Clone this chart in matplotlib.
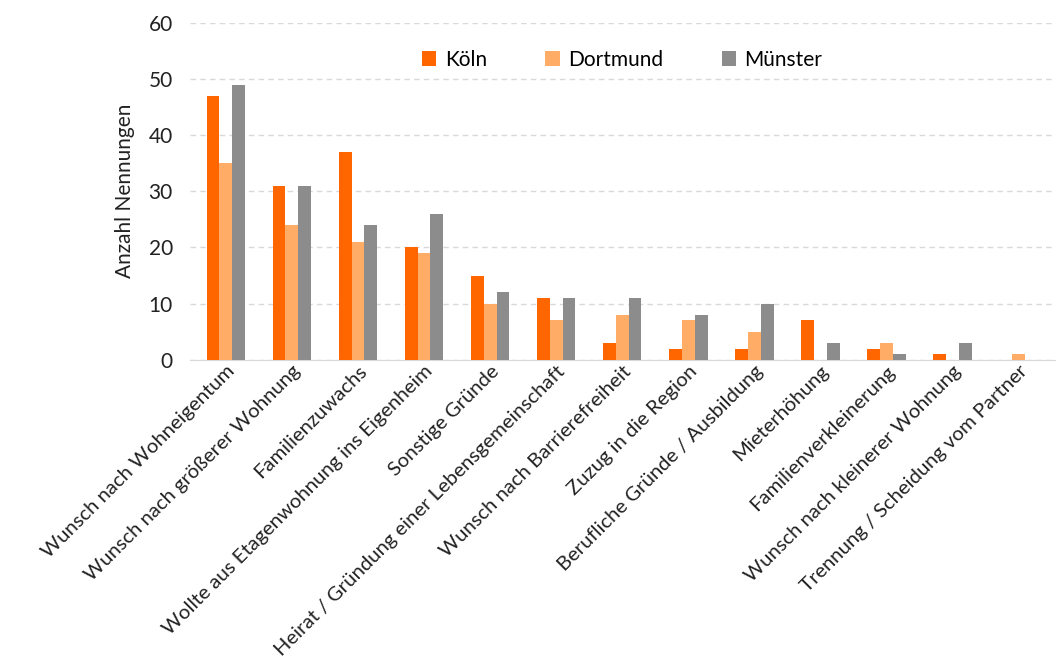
import numpy as np
import matplotlib.pyplot as plt

plt.rcParams['font.family'] = ['Lato', 'DejaVu Sans']

gruende = [
    'Wunsch nach Wohneigentum',
    'Wunsch nach größerer Wohnung',
    'Familienzuwachs',
    'Wollte aus Etagenwohnung ins Eigenheim',
    'Sonstige Gründe',
    'Heirat / Gründung einer Lebensgemeinschaft',
    'Wunsch nach Barrierefreiheit',
    'Zuzug in die Region',
    'Berufliche Gründe / Ausbildung',
    'Mieterhöhung',
    'Familienverkleinerung',
    'Wunsch nach kleinerer Wohnung',
    'Trennung / Scheidung vom Partner',
]
koeln = [47, 31, 37, 20, 15, 11, 3, 2, 2, 7, 2, 1, 0]
dortmund = [35, 24, 21, 19, 10, 7, 8, 7, 5, 0, 3, 0, 1]
muenster = [49, 31, 24, 26, 12, 11, 11, 8, 10, 3, 1, 3, 0]

staedte = ['Köln', 'Dortmund', 'Münster']
farben = ['#FF6600', '#FFAD66', '#8C8C8C']

fig = plt.figure(figsize=(10.59, 6.70), dpi=100)
ax = fig.add_axes([0.179, 0.463, 0.817, 0.503])

x = np.arange(len(gruende))
w = 0.195
for i, (werte, name, farbe) in enumerate(zip([koeln, dortmund, muenster], staedte, farben)):
    ax.bar(x + (i - 1) * w, werte, w, color=farbe, label=name, zorder=3)

ax.set_xlim(-0.55, len(gruende) - 0.45)
ax.set_ylim(0, 60)
ax.set_yticks(range(0, 61, 10))
ax.yaxis.grid(True, color='#D9D9D9', linestyle=(0, (4, 3)), linewidth=1, zorder=0)
for s in ['top', 'right', 'left']:
    ax.spines[s].set_visible(False)
ax.spines['bottom'].set_color('#D9D9D9')
ax.tick_params(axis='both', length=0, labelsize=15, colors='#222222')
ax.tick_params(axis='y', pad=12)
ax.tick_params(axis='x', pad=2)
ax.set_xticks(x)
ax.set_xticklabels(gruende, rotation=45, ha='right', rotation_mode='anchor', fontsize=14.6)
ax.set_ylabel('Anzahl Nennungen', fontsize=15, color='#222222', labelpad=10)

ax.legend(loc='center', bbox_to_anchor=(0.5, 0.89), ncol=3, frameon=False,
          fontsize=15, handlelength=0.7, handleheight=0.7, handletextpad=0.4,
          columnspacing=2.8)

fig.savefig('out.png', dpi=100)
